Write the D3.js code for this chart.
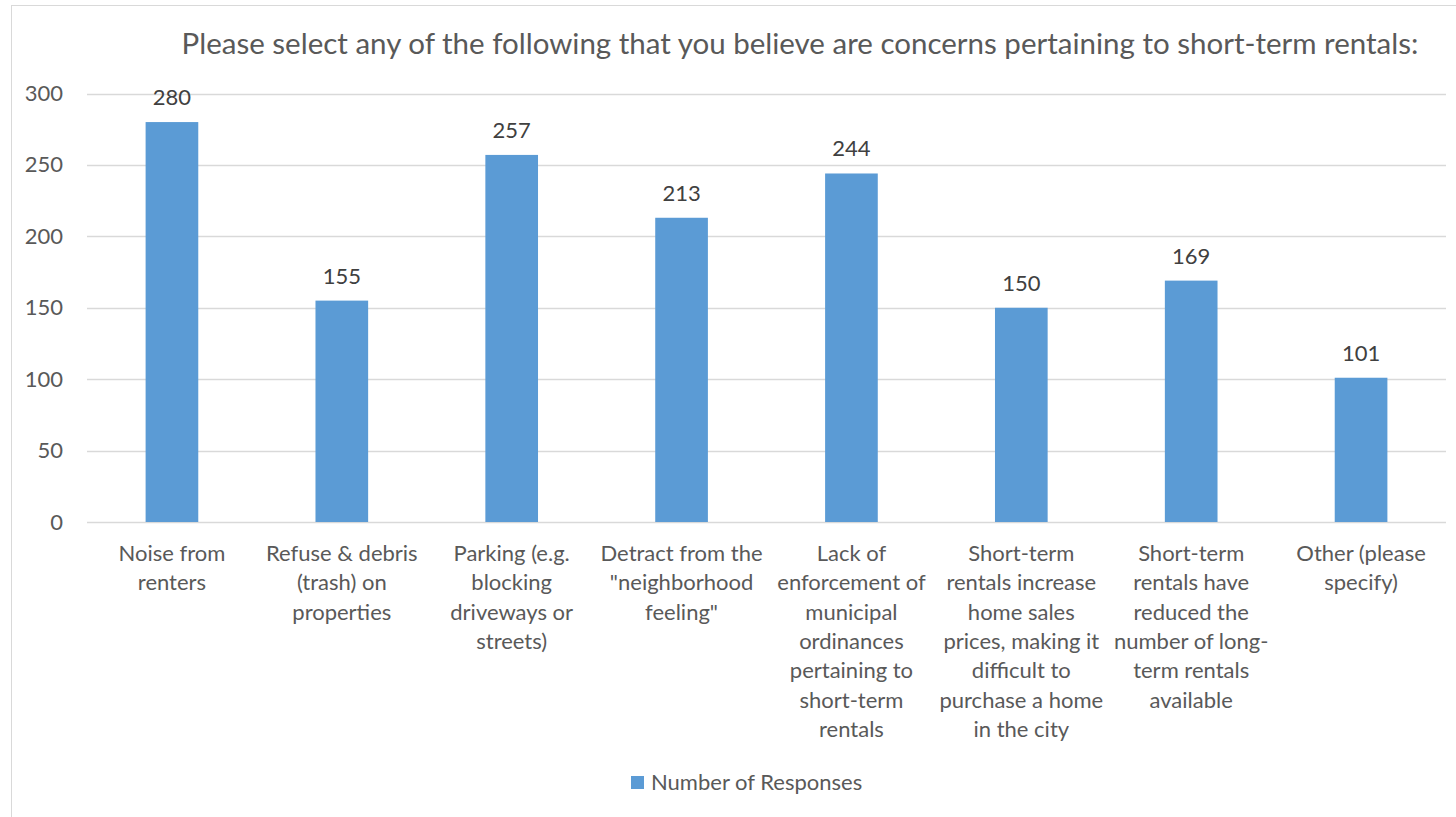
<!DOCTYPE html>
<html>
<head>
<meta charset="utf-8">
<script src="https://cdn.jsdelivr.net/npm/d3@7"></script>
<style>
  html, body { margin: 0; padding: 0; background: #fff; }
  svg { display: block; }
  text { font-family: Lato, "Open Sans", sans-serif; }
</style>
</head>
<body>
<svg id="chart" width="1456" height="817"></svg>
<script>
const title = "Please select any of the following that you believe are concerns pertaining to short-term rentals:";
const seriesName = "Number of Responses";

// Category labels, one array of display lines per category
const categoryLines = [
  ["Noise from", "renters"],
  ["Refuse & debris", "(trash) on", "properties"],
  ["Parking (e.g.", "blocking", "driveways or", "streets)"],
  ["Detract from the", "\"neighborhood", "feeling\""],
  ["Lack of", "enforcement of", "municipal", "ordinances", "pertaining to", "short-term", "rentals"],
  ["Short-term", "rentals increase", "home sales", "prices, making it", "difficult to", "purchase a home", "in the city"],
  ["Short-term", "rentals have", "reduced the", "number of long-", "term rentals", "available"],
  ["Other (please", "specify)"]
];
const categories = categoryLines.map(l => l.join(" "));
const responses = [280, 155, 257, 213, 244, 150, 169, 101];
const yTicks = [0, 50, 100, 150, 200, 250, 300];

const svg = d3.select("#chart");
const W = 1456, H = 817;
const plot = { left: 87, right: 1446, top: 93.5, bottom: 522 };
const labelSize = 22;

// Chart frame
svg.append("rect")
  .attr("x", 11.5).attr("y", 5.5)
  .attr("width", W + 20).attr("height", H + 20)
  .attr("fill", "#fff").attr("stroke", "#d9d9d9").attr("stroke-width", 1);

const x = d3.scaleBand()
  .domain(categories)
  .range([plot.left, plot.right])
  .paddingInner(0.69)
  .paddingOuter(0.345);

const y = d3.scaleLinear()
  .domain([0, 300])
  .range([plot.bottom, plot.top]);

// Title
svg.append("text")
  .attr("x", 800).attr("y", 54)
  .attr("text-anchor", "middle")
  .attr("font-size", 29.5)
  .attr("fill", "#595959")
  .text(title);

// Gridlines
svg.append("g")
  .selectAll("line")
  .data(yTicks)
  .join("line")
  .attr("x1", plot.left).attr("x2", plot.right)
  .attr("y1", d => Math.round(y(d)) + 0.5).attr("y2", d => Math.round(y(d)) + 0.5)
  .attr("stroke", "#d9d9d9").attr("stroke-width", 1.3);

// Y axis labels
const yAxis = d3.axisLeft(y).tickValues(yTicks).tickSize(0).tickPadding(0);
const gy = svg.append("g")
  .attr("transform", `translate(${plot.left - 24},0)`)
  .call(yAxis);
gy.select(".domain").remove();
gy.selectAll("text")
  .attr("font-size", labelSize)
  .attr("fill", "#595959")
  .attr("font-family", "Lato, 'Open Sans', sans-serif");

// Bars
svg.append("g")
  .selectAll("rect")
  .data(responses)
  .join("rect")
  .attr("x", (d, i) => x(categories[i]))
  .attr("width", x.bandwidth())
  .attr("y", d => y(d))
  .attr("height", d => y(0) - y(d))
  .attr("fill", "#5b9bd5");

// Value labels
svg.append("g")
  .selectAll("text")
  .data(responses)
  .join("text")
  .attr("x", (d, i) => x(categories[i]) + x.bandwidth() / 2)
  .attr("y", d => y(d) - 17)
  .attr("text-anchor", "middle")
  .attr("font-size", labelSize)
  .attr("fill", "#404040")
  .text(d => d);

// Category labels
const xl = svg.append("g")
  .selectAll("text")
  .data(categories)
  .join("text")
  .attr("x", d => x(d) + x.bandwidth() / 2)
  .attr("y", 561)
  .attr("text-anchor", "middle")
  .attr("font-size", labelSize)
  .attr("fill", "#595959");
xl.each(function(d, i) {
  d3.select(this).selectAll("tspan")
    .data(categoryLines[i])
    .join("tspan")
    .attr("x", x(d) + x.bandwidth() / 2)
    .attr("dy", (l, j) => j === 0 ? 0 : 29.3)
    .text(l => l);
});

// Legend
const legend = svg.append("g");
legend.append("rect")
  .attr("x", 631).attr("y", 776)
  .attr("width", 13).attr("height", 13)
  .attr("fill", "#5b9bd5");
legend.append("text")
  .attr("x", 651).attr("y", 790)
  .attr("font-size", labelSize)
  .attr("fill", "#595959")
  .text(seriesName);
</script>
</body>
</html>
